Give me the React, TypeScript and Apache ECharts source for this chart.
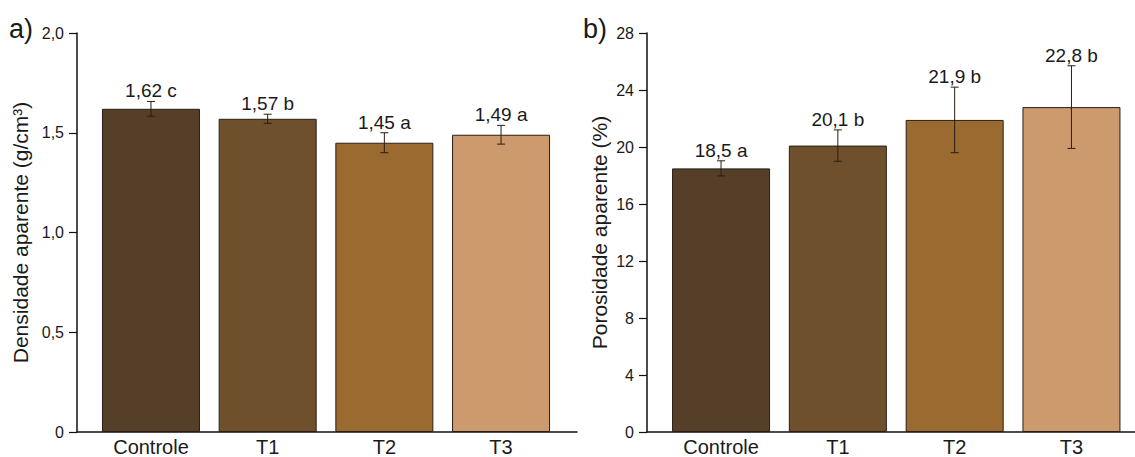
import React, { useEffect, useRef } from "react";
import * as echarts from "echarts";

const categories = ["Controle", "T1", "T2", "T3"];
const densityValues = [1.62, 1.57, 1.45, 1.49];
const densityErrors = [0.037, 0.023, 0.05, 0.047];
const densityLetters = ["c", "b", "a", "a"];
const porosityValues = [18.5, 20.1, 21.9, 22.8];
const porosityErrors = [0.53, 1.1, 2.3, 2.9];
const porosityLetters = ["a", "b", "b", "b"];
const densityTicks = [0, 0.5, 1.0, 1.5, 2.0];
const porosityTicks = [0, 4, 8, 12, 16, 20, 24, 28];

const barColors = ["#563f28", "#6e502c", "#9a6a31", "#cd9a6d"];
const FONT = "Liberation Sans, Arial, sans-serif";
const fmt = (v: number, d: number) => v.toFixed(d).replace(".", ",");

function errorSeries(xAxisIndex: number, yAxisIndex: number, vals: number[], errs: number[], letters: string[], dec: number) {
  return {
    type: "custom",
    xAxisIndex,
    yAxisIndex,
    clip: false,
    z: 10,
    data: vals.map((v, i) => [i, v, errs[i]]),
    renderItem: (params: any, api: any) => {
      const x = api.value(0);
      const v = api.value(1);
      const e = api.value(2);
      const top = api.coord([x, v + e]);
      const bot = api.coord([x, v - e]);
      const i = params.dataIndex;
      const lineStyle = { stroke: "#2a1d12", lineWidth: 1 };
      return {
        type: "group",
        children: [
          { type: "line", shape: { x1: top[0], y1: top[1], x2: bot[0], y2: bot[1] }, style: lineStyle },
          { type: "line", shape: { x1: top[0] - 4, y1: top[1], x2: top[0] + 4, y2: top[1] }, style: lineStyle },
          { type: "line", shape: { x1: bot[0] - 4, y1: bot[1], x2: bot[0] + 4, y2: bot[1] }, style: lineStyle },
          {
            type: "text",
            x: top[0],
            y: top[1] - 1,
            style: {
              text: fmt(vals[i], dec) + " " + letters[i],
              align: "center",
              verticalAlign: "bottom",
              font: `19px ${FONT}`,
              fill: "#1a1a1a",
            },
          },
        ],
      };
    },
  };
}

function xAxisDef(gridIndex: number, max: number) {
  return {
    type: "value",
    gridIndex,
    min: -0.634,
    max,
    splitLine: { show: false },
    axisTick: { show: false },
    axisLine: { show: true, onZero: false, lineStyle: { color: "#111", width: 1.5 } },
    axisLabel: {
      customValues: [0, 1, 2, 3],
      formatter: (v: number) => categories[Math.round(v)] ?? "",
      color: "#1a1a1a",
      fontSize: 20,
      fontFamily: FONT,
      margin: 5,
    },
  };
}

function yAxisDef(gridIndex: number, max: number, interval: number, name: string, dec: number, gap: number) {
  return {
    type: "value",
    gridIndex,
    min: 0,
    max,
    interval,
    name,
    nameLocation: "middle",
    nameGap: gap,
    nameTextStyle: { fontSize: 21, fontFamily: FONT, color: "#1a1a1a" },
    splitLine: { show: false },
    axisLine: { show: true, onZero: false, lineStyle: { color: "#111", width: 1.5 } },
    axisTick: { show: true, length: 8, lineStyle: { color: "#111", width: 1.2 } },
    axisLabel: {
      formatter: (v: number) => (v === 0 ? "0" : fmt(v, dec)),
      color: "#1a1a1a",
      fontSize: 16,
      fontFamily: FONT,
      margin: 13,
    },
  };
}

function barSeries(xAxisIndex: number, yAxisIndex: number, vals: number[]) {
  return {
    type: "bar",
    xAxisIndex,
    yAxisIndex,
    barWidth: 98,
    data: vals.map((v, i) => ({
      value: [i, v],
      itemStyle: { color: barColors[i], borderColor: "#2a1e14", borderWidth: 1 },
    })),
  };
}

export default function App() {
  const ref = useRef<HTMLDivElement>(null);
  useEffect(() => {
    if (!ref.current) return;
    const chart = echarts.init(ref.current, undefined, { renderer: "svg" });
    chart.setOption({
      animation: false,
      backgroundColor: "#ffffff",
      grid: [
        { left: 77, top: 33, width: 500, height: 401 },
        { left: 647, top: 33, width: 488, height: 401 },
      ],
      xAxis: [xAxisDef(0, 3.651), xAxisDef(1, 3.544)],
      yAxis: [
        yAxisDef(0, densityTicks[densityTicks.length - 1], 0.5, "Densidade aparente (g/cm³)", 1, 46),
        yAxisDef(1, porosityTicks[porosityTicks.length - 1], 4, "Porosidade aparente (%)", 0, 37),
      ],
      graphic: [
        { type: "text", left: 9, top: 15, style: { text: "a)", font: `27px ${FONT}`, fill: "#1a1a1a" } },
        { type: "text", left: 583, top: 15, style: { text: "b)", font: `27px ${FONT}`, fill: "#1a1a1a" } },
      ],
      series: [
        barSeries(0, 0, densityValues),
        errorSeries(0, 0, densityValues, densityErrors, densityLetters, 2),
        barSeries(1, 1, porosityValues),
        errorSeries(1, 1, porosityValues, porosityErrors, porosityLetters, 1),
      ],
    });
    return () => chart.dispose();
  }, []);
  return (
    <div
      ref={ref}
      style={{ position: "absolute", left: 0, top: 0, width: 1135, height: 457 }}
    />
  );
}
